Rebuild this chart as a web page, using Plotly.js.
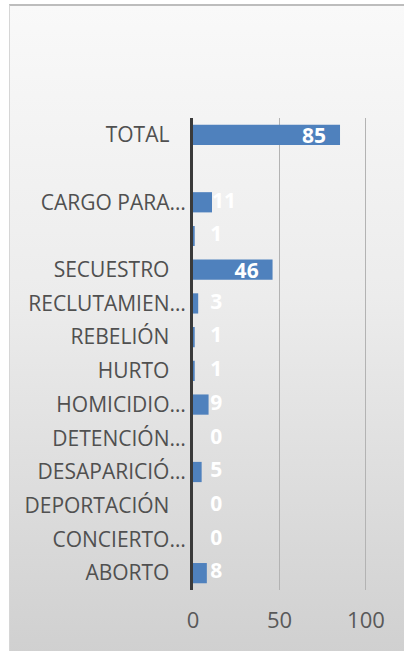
<!DOCTYPE html>
<html>
<head>
<meta charset="utf-8">
<script src="https://cdn.plot.ly/plotly-3.0.1.min.js"></script>
<style>
  html, body { margin: 0; padding: 0; background: #ffffff; width: 404px; height: 651px; overflow: hidden; }
  #panel {
    position: absolute; left: 9px; top: 4px; width: 400px; height: 647px;
    border-top: 2px solid #bdbdbd; border-left: 1px solid #d6d6d6;
    background: linear-gradient(to bottom, #f9f9f9 0%, #ececec 45%, #d0d0d0 100%);
  }
  #chart { position: absolute; left: 0; top: 0; width: 404px; height: 651px; }
</style>
</head>
<body>
<div id="panel"></div>
<div id="chart"></div>
<script>
// Categories listed bottom to top
const categories = [
  "ABORTO", "CONCIERTO…", "DEPORTACIÓN", "DESAPARICIÓ…", "DETENCIÓN…",
  "HOMICIDIO…", "HURTO", "REBELIÓN", "RECLUTAMIEN…", "SECUESTRO",
  "", "CARGO PARA…", "", "TOTAL"
];
const values = [8, 0, 0, 5, 0, 9, 1, 1, 3, 46, 1, 11, null, 85];
const xTicks = [0, 50, 100];

const idx = categories.map((c, i) => i);
const tickText = categories.map(c => (c === "" || c.endsWith("…")) ? c : c + "\u00a0\u00a0\u00a0");
const isBig = v => v !== null && v >= 20;

const fontFam = "'Open Sans', 'Noto Sans', sans-serif";
const lblFont = { family: fontFam, size: 21, color: "#ffffff", weight: "bold" };
const labelMin = 10; // smallest x at which a label beside a short bar starts

const bars = {
  type: "bar",
  orientation: "h",
  x: values,
  y: idx,
  marker: { color: "#4f81bd" },
  text: values.map(v => isBig(v) ? String(v) + "\u00a0\u00a0" : ""),
  textposition: "inside",
  insidetextanchor: "end",
  textangle: 0,
  constraintext: "none",
  insidetextfont: lblFont,
  textfont: lblFont,
  cliponaxis: false,
  hoverinfo: "none"
};

const smallLabels = {
  type: "scatter",
  mode: "text",
  x: values.map(v => (v === null || isBig(v)) ? null : Math.max(v, labelMin)),
  y: idx,
  text: values.map(v => (v === null || isBig(v)) ? "" : String(v)),
  textposition: "middle right",
  textfont: lblFont,
  cliponaxis: false,
  hoverinfo: "none"
};

const layout = {
  width: 404, height: 651,
  margin: { l: 193, r: 37, t: 118, b: 61 },
  paper_bgcolor: "rgba(0,0,0,0)",
  plot_bgcolor: "rgba(0,0,0,0)",
  showlegend: false,
  bargap: 0.4,
  font: { family: fontFam, color: "#505050" },
  xaxis: {
    range: [0, 100.6],
    tickvals: xTicks,
    ticktext: xTicks.map(String),
    showgrid: true, gridcolor: "#b3b3b3", gridwidth: 1,
    zeroline: false, showline: false, ticks: "",
    tickfont: { family: fontFam, size: 22, color: "#595959" },
    ticklabelstandoff: 15,
    fixedrange: true
  },
  yaxis: {
    range: [-0.5, categories.length - 0.5],
    tickvals: idx,
    ticktext: tickText,
    showgrid: false, zeroline: false,
    showline: true, linecolor: "#3a3a3a", linewidth: 3,
    ticks: "",
    tickfont: { family: fontFam, size: 21, color: "#505050" },
    ticklabelstandoff: 0,
    fixedrange: true
  }
};

Plotly.newPlot("chart", [bars, smallLabels], layout, { displayModeBar: false, staticPlot: true });
</script>
</body>
</html>
